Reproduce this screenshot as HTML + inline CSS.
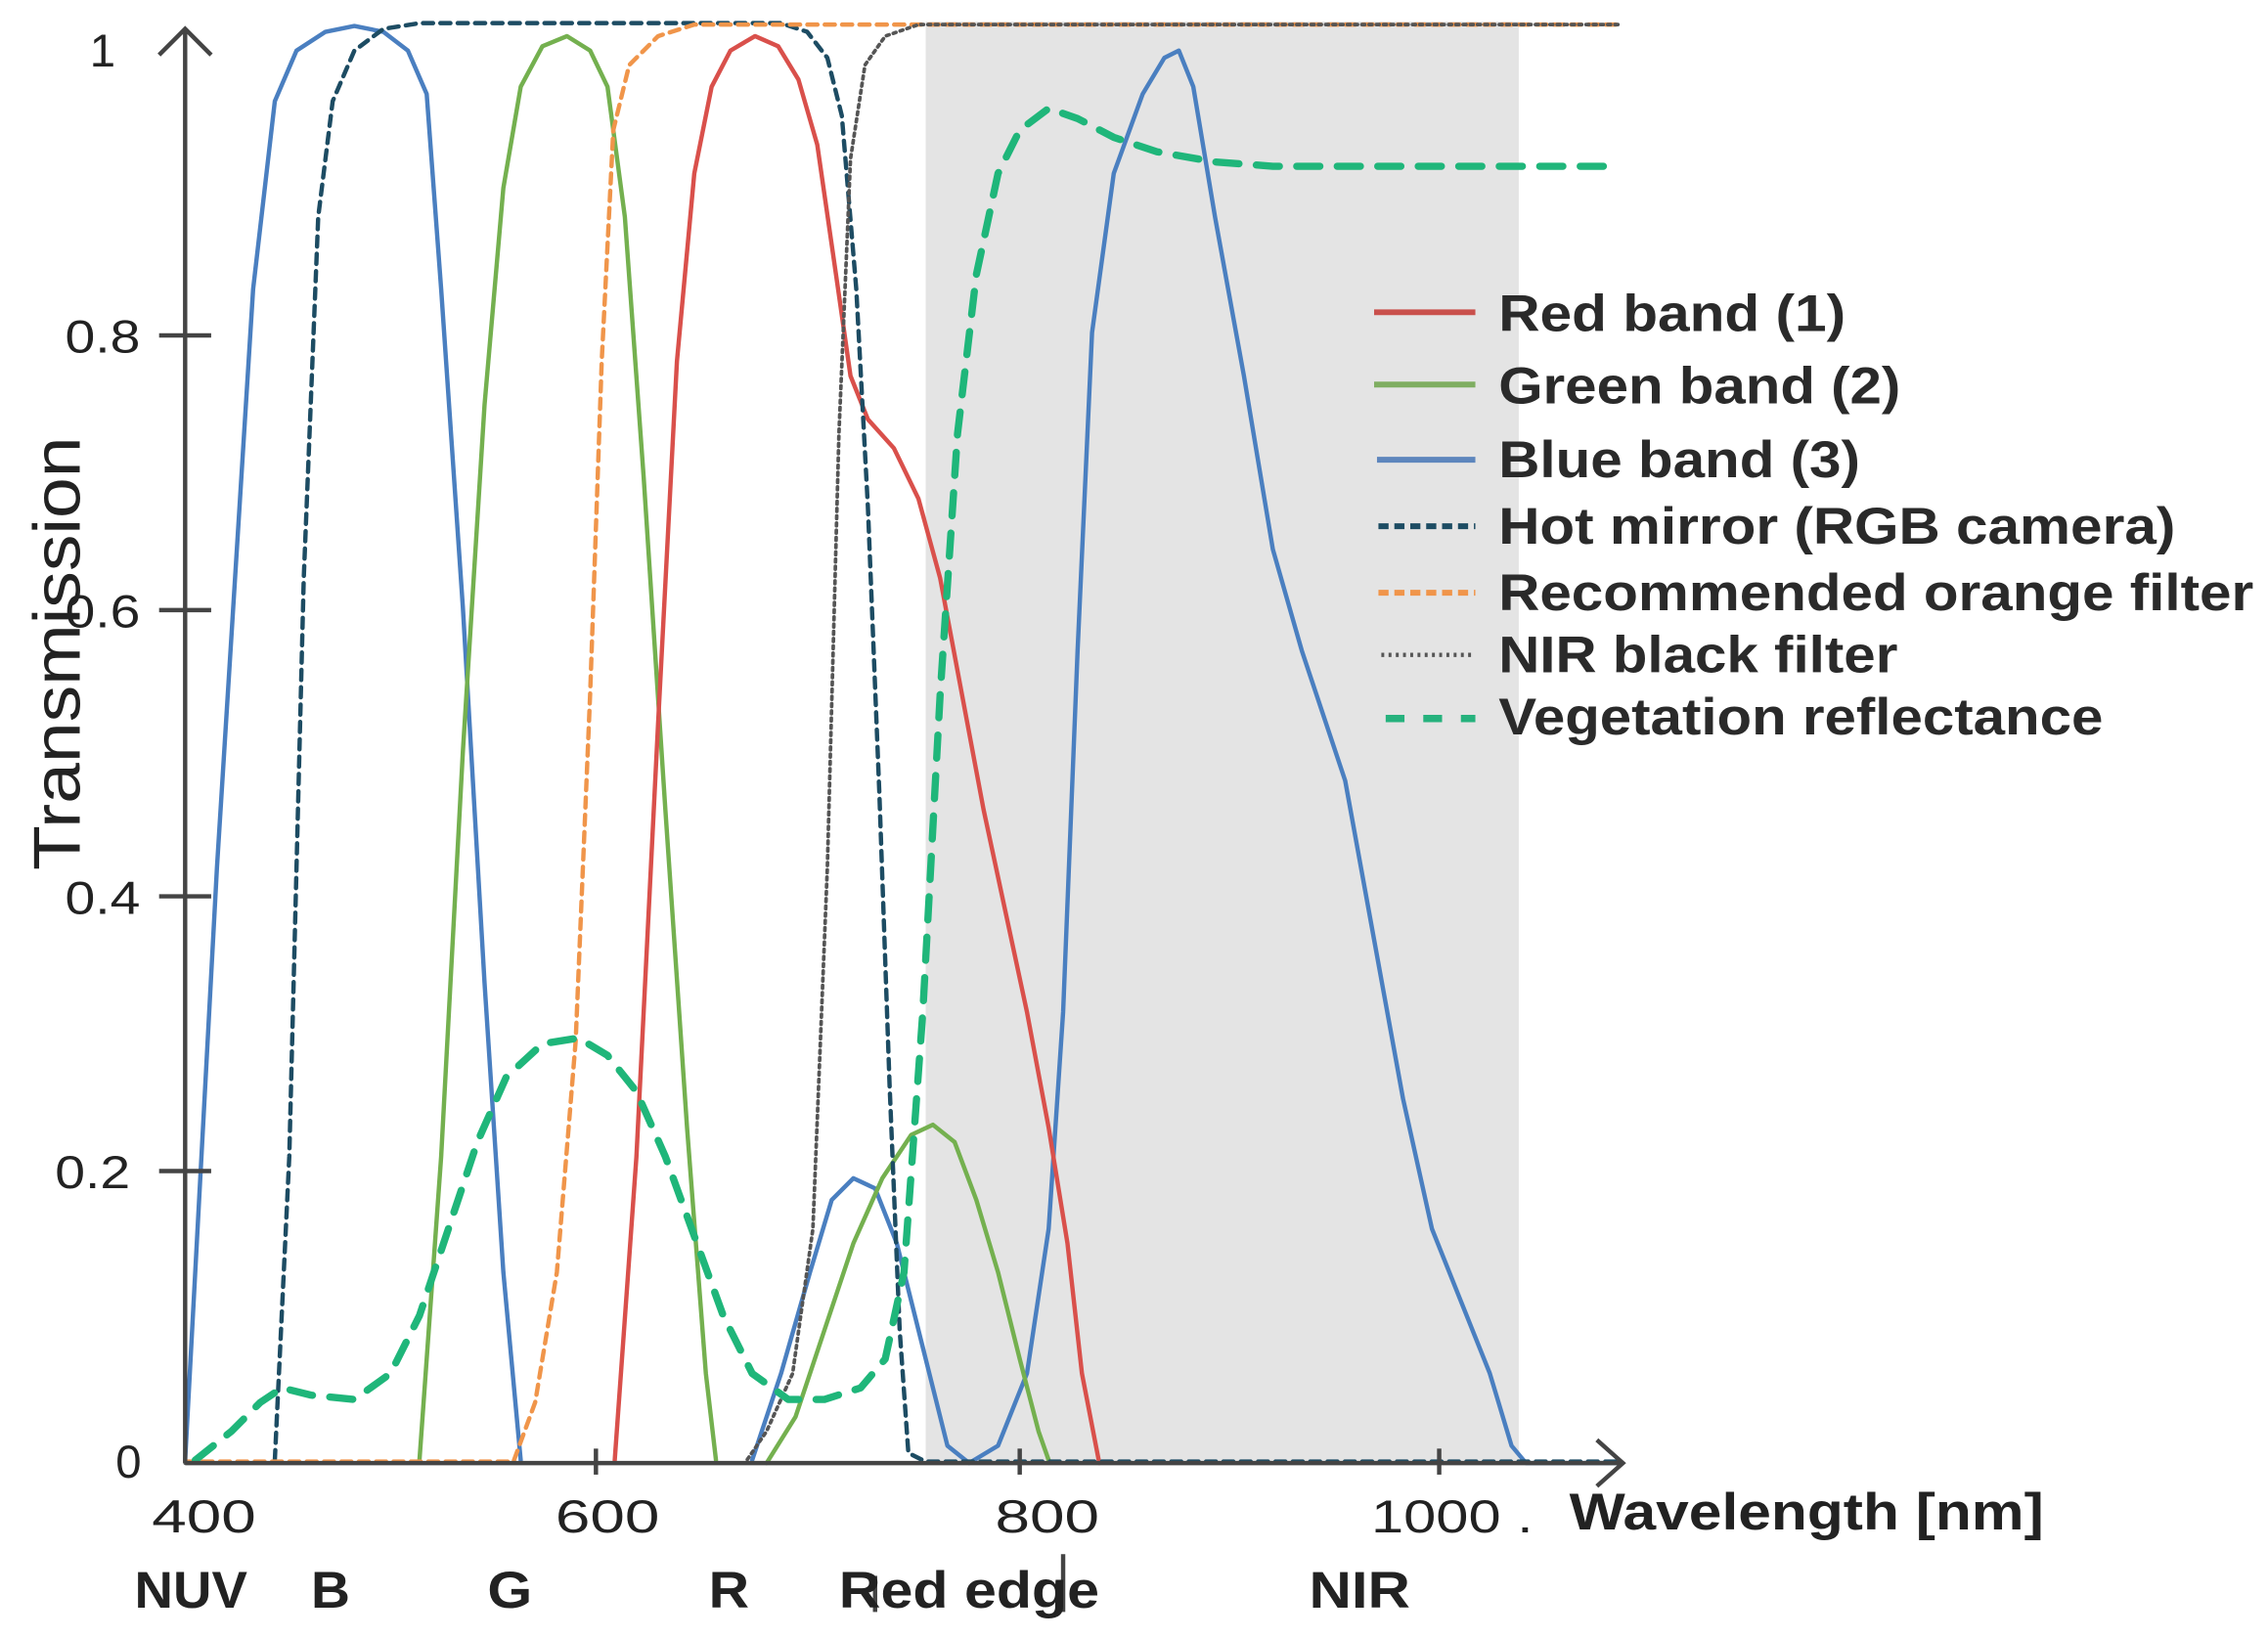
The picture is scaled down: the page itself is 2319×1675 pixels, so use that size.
<!DOCTYPE html>
<html><head><meta charset="utf-8"><style>
html,body{margin:0;padding:0;background:#fff;}
svg{display:block;}
text{font-family:"Liberation Sans",sans-serif;}
</style></head><body>
<svg width="2319" height="1675" viewBox="0 0 1568 1133" preserveAspectRatio="none" xmlns="http://www.w3.org/2000/svg">
<rect x="0" y="0" width="1568" height="1133" fill="#fff"/>
<rect x="640" y="15" width="410" height="997" fill="#e4e4e4"/>
<g fill="none" stroke-linejoin="round" stroke-linecap="round">
<polyline stroke="#4a7fc0" stroke-width="3" points="128,1010 150,600 175,200 190,70 205,35 225,22 245,18 265,22 282,35 295,65 305,200 320,420 335,680 348,880 360,1010"/>
<polyline stroke="#4a7fc0" stroke-width="3" points="520,1010 540,950 560,880 575,830 590,815 605,822 620,860 640,940 655,1000 670,1012 690,1000 710,950 725,850 735,700 745,450 755,230 770,120 790,65 805,40 815,35 825,60 840,150 860,260 880,380 900,450 930,540 950,650 970,760 990,850 1010,900 1030,950 1045,1000 1055,1012 1120,1012"/>
<polyline stroke="#74b04f" stroke-width="3" points="290,1010 305,800 320,520 335,280 348,130 360,60 375,32 392,25 408,35 420,60 432,150 445,330 460,560 475,780 488,950 495,1010"/>
<polyline stroke="#74b04f" stroke-width="3" points="530,1012 550,980 570,920 590,860 610,815 630,785 645,778 660,790 675,830 690,880 705,940 718,990 725,1010"/>
<polyline stroke="#d9504b" stroke-width="3" points="425,1010 440,800 455,500 468,250 480,120 492,60 505,35 522,25 538,32 552,55 565,100 578,190 588,260 600,290 618,310 635,345 650,400 665,480 680,560 695,630 710,700 725,780 738,860 748,950 760,1012"/>
<polyline stroke="#1d4c63" stroke-width="3" stroke-dasharray="7,5" points="190,1010 200,800 210,400 220,150 230,70 245,35 265,20 290,16 540,16 558,22 572,40 582,80 592,200 600,350 608,550 615,750 622,920 628,1005 640,1011 1120,1011"/>
<polyline stroke="#f0954a" stroke-width="3" stroke-dasharray="7,5" points="128,1011 355,1011 370,970 385,880 398,720 408,480 416,250 424,90 435,45 455,25 480,17 1120,17"/>
<polyline stroke="#555" stroke-width="2.5" stroke-dasharray="2,3" points="128,1012 515,1012 530,990 548,950 562,850 572,600 580,300 588,110 598,45 612,25 635,17 1120,17"/>
<polyline stroke="#1fb67a" stroke-width="5" stroke-dasharray="16,12" points="135,1010 160,990 180,970 195,960 215,965 245,968 270,950 290,910 310,850 330,790 350,745 375,722 400,718 420,730 440,755 460,800 480,855 500,910 520,950 545,968 570,968 595,960 612,940 625,880 638,700 650,480 662,300 675,190 690,120 705,90 725,75 745,82 770,95 800,105 840,112 880,115 1120,115"/>
</g>
<g stroke="#444" stroke-width="3" fill="none">
<line x1="128" y1="1012" x2="128" y2="20"/>
<polyline points="110,38 128,20 146,38"/>
<line x1="128" y1="1012" x2="1122" y2="1012"/>
<polyline points="1104,996 1122,1012 1104,1028"/>
<line x1="110" y1="232" x2="146" y2="232"/>
<line x1="110" y1="422" x2="146" y2="422"/>
<line x1="110" y1="620" x2="146" y2="620"/>
<line x1="110" y1="810" x2="146" y2="810"/>
<line x1="412" y1="1002" x2="412" y2="1020"/>
<line x1="705" y1="1002" x2="705" y2="1020"/>
<line x1="995" y1="1002" x2="995" y2="1020"/>
<line x1="735" y1="1075" x2="735" y2="1115"/>
<line x1="605" y1="1090" x2="605" y2="1115"/>
</g>
<g fill="#222" font-size="32" lengthAdjust="spacingAndGlyphs">
<text x="62" y="46">1</text>
<text x="45" y="244" textLength="52" lengthAdjust="spacingAndGlyphs">0.8</text>
<text x="45" y="434" textLength="52" lengthAdjust="spacingAndGlyphs">0.6</text>
<text x="45" y="632" textLength="52" lengthAdjust="spacingAndGlyphs">0.4</text>
<text x="38" y="822" textLength="52" lengthAdjust="spacingAndGlyphs">0.2</text>
<text x="80" y="1022">0</text>
<text x="105" y="1060" textLength="72" lengthAdjust="spacingAndGlyphs">400</text>
<text x="384" y="1060" textLength="72" lengthAdjust="spacingAndGlyphs">600</text>
<text x="688" y="1060" textLength="72" lengthAdjust="spacingAndGlyphs">800</text>
<text x="948" y="1060" textLength="112" lengthAdjust="spacingAndGlyphs">1000 .</text>
</g>
<text x="0" y="0" font-size="46" fill="#222" transform="translate(55,602) rotate(-90)" textLength="300" lengthAdjust="spacingAndGlyphs">Transmission</text>
<g fill="#222" font-size="36" font-weight="bold">
<text x="1085" y="1058" textLength="328" lengthAdjust="spacingAndGlyphs">Wavelength [nm]</text>
<text x="93" y="1112" textLength="78" lengthAdjust="spacingAndGlyphs">NUV</text>
<text x="215" y="1112" textLength="27" lengthAdjust="spacingAndGlyphs">B</text>
<text x="337" y="1112" textLength="31" lengthAdjust="spacingAndGlyphs">G</text>
<text x="490" y="1112" textLength="28" lengthAdjust="spacingAndGlyphs">R</text>
<text x="580" y="1112" textLength="180" lengthAdjust="spacingAndGlyphs">Red edge</text>
<text x="905" y="1112" textLength="70" lengthAdjust="spacingAndGlyphs">NIR</text>
</g>
<g stroke-width="4" fill="none">
<line x1="950" y1="216" x2="1020" y2="216" stroke="#c9504c"/>
<line x1="950" y1="266" x2="1020" y2="266" stroke="#7fae61"/>
<line x1="952" y1="318" x2="1020" y2="318" stroke="#5e86bd"/>
<line x1="953" y1="364" x2="1020" y2="364" stroke="#1d4c63" stroke-dasharray="7,4"/>
<line x1="953" y1="410" x2="1020" y2="410" stroke="#f0954a" stroke-dasharray="7,4"/>
<line x1="955" y1="453" x2="1020" y2="453" stroke="#555" stroke-dasharray="2,3" stroke-width="3"/>
<line x1="958" y1="497" x2="1020" y2="497" stroke="#26b27d" stroke-dasharray="13,13" stroke-width="5"/>
</g>
<g fill="#2a2a2a" font-size="36" font-weight="bold">
<text x="1036" y="229" textLength="240" lengthAdjust="spacingAndGlyphs">Red band (1)</text>
<text x="1036" y="279" textLength="278" lengthAdjust="spacingAndGlyphs">Green band (2)</text>
<text x="1036" y="330" textLength="250" lengthAdjust="spacingAndGlyphs">Blue band (3)</text>
<text x="1036" y="376" textLength="468" lengthAdjust="spacingAndGlyphs">Hot mirror (RGB camera)</text>
<text x="1036" y="422" textLength="522" lengthAdjust="spacingAndGlyphs">Recommended orange filter</text>
<text x="1036" y="465" textLength="276" lengthAdjust="spacingAndGlyphs">NIR black filter</text>
<text x="1036" y="508" textLength="418" lengthAdjust="spacingAndGlyphs">Vegetation reflectance</text>
</g>
</svg>
</body></html>
